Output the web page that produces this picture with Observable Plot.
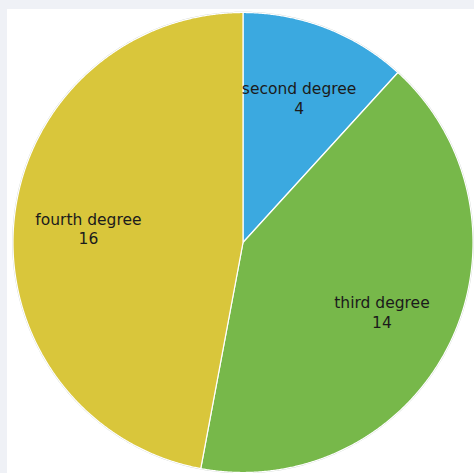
<!DOCTYPE html>
<html>
<head>
<meta charset="utf-8">
<script src="https://cdn.jsdelivr.net/npm/d3@7"></script>
<script src="https://cdn.jsdelivr.net/npm/@observablehq/plot@0.6"></script>
<style>
  html, body { margin: 0; padding: 0; background: #eff1f6; }
  #frame { position: absolute; left: 7px; top: 9px; width: 467px; height: 464px; background: #ffffff; }
  #frame svg { display: block; }
</style>
</head>
<body>
<div id="frame"></div>
<script>
// Polynomial degree counts
const categories = ["second degree", "third degree", "fourth degree"];
const counts = [4, 14, 16];
const colors = ["#3ba9e0", "#77b84a", "#d9c63b"];

// Slice angles (clockwise from 12 o'clock), no sorting
const arcs = d3.pie().sort(null).value((d, i) => counts[i])(categories);

// Each slice as a closed polygon in unit-circle coordinates
const slices = [];
arcs.forEach((a, i) => {
  const name = categories[i];
  slices.push({name, x: 0, y: 0});
  const steps = Math.max(2, Math.ceil((a.endAngle - a.startAngle) / 0.005));
  for (let k = 0; k <= steps; k++) {
    const t = a.startAngle + (a.endAngle - a.startAngle) * k / steps;
    slices.push({name, x: Math.sin(t), y: Math.cos(t)});
  }
  slices.push({name, x: 0, y: 0});
});

// Outer rim
const rim = d3.range(0, 721).map(k => {
  const t = k / 720 * 2 * Math.PI;
  return {x: Math.sin(t), y: Math.cos(t)};
});

// Labels at the middle angle of each slice
const labels = arcs.map((a, i) => {
  const m = (a.startAngle + a.endAngle) / 2;
  return {text: `${categories[i]}\n${counts[i]}`, x: 0.675 * Math.sin(m), y: 0.675 * Math.cos(m)};
});

const chart = Plot.plot({
  width: 467,
  height: 464,
  marginLeft: 5.5,
  marginRight: 1.5,
  marginTop: 3,
  marginBottom: 1,
  x: {domain: [-1, 1], axis: null},
  y: {domain: [-1, 1], axis: null},
  color: {domain: categories, range: colors},
  style: {background: "transparent"},
  marks: [
    Plot.line(rim, {x: "x", y: "y", stroke: "#c9d0cc", strokeWidth: 1.6}),
    Plot.line(slices, {x: "x", y: "y", z: "name", fill: "name", stroke: "#ffffff", strokeWidth: 1.2, strokeLinejoin: "round", curve: "linear-closed"}),
    Plot.text(labels, {x: "x", y: "y", text: "text", fontSize: 15.5, lineHeight: 1.25, lineAnchor: "middle", fontFamily: "DejaVu Sans, Verdana, sans-serif", fill: "#1b1b1b"})
  ]
});

document.getElementById("frame").appendChild(chart);
</script>
</body>
</html>
